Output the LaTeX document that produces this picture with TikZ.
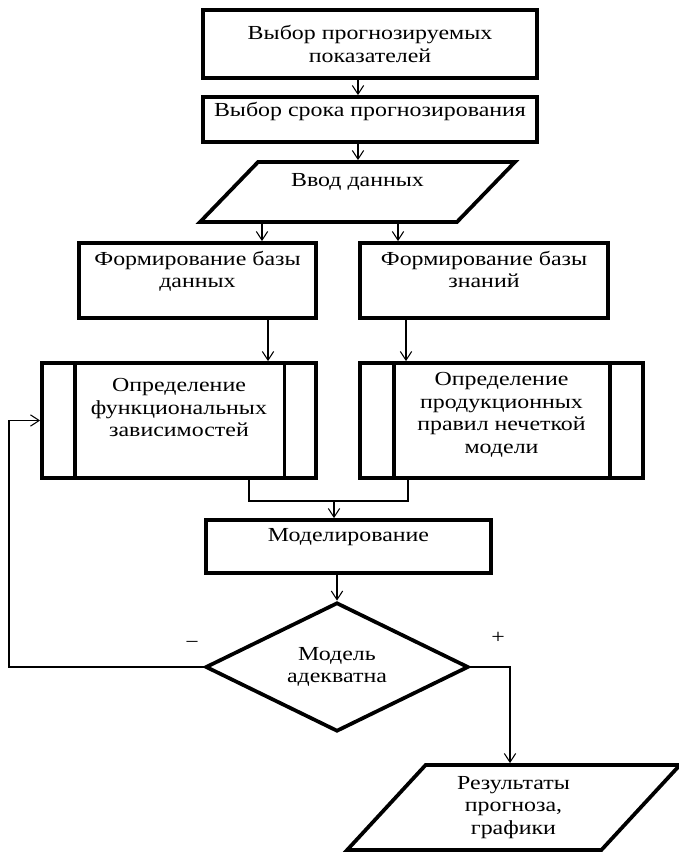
\documentclass[tikz,border=0pt]{standalone}
\usepackage{fontspec}
\setmainfont[FakeStretch=1.2]{Liberation Serif}
\usetikzlibrary{shapes.geometric, arrows.meta, calc}

\begin{document}
\begin{tikzpicture}[x=0.03cm, y=-0.03cm,
  every node/.style={font=\fontsize{17}{19.2}\selectfont, align=center},
  block/.style={draw, line width=3.2pt, inner sep=0pt},
  dataio/.style={draw, line width=3.2pt, trapezium, trapezium stretches=true, inner sep=0pt},
  decision/.style={draw, line width=3.2pt, diamond, aspect=2, inner sep=0pt},
  arr/.style={line width=0.9pt, -{Straight Barb[length=2.6mm, width=3.4mm]}},
  link/.style={line width=0.9pt}]
  \useasboundingbox (0,0) rectangle (678,852);

  % Input stage
  \node[block, minimum width=10.02cm, minimum height=2.04cm] (prog) at (370,44) {Выбор прогнозируемых\\показателей};
  \node[block, minimum width=10.02cm, minimum height=1.35cm, text depth=16.5pt] (term) at (370,119.5) {Выбор срока прогнозирования};
  \node[dataio, trapezium left angle=44, trapezium right angle=136, minimum width=9.45cm, minimum height=1.8cm, text depth=20.8pt] (input) at (357.5,192) {Ввод данных};

  % Two branches: data base and knowledge base
  \node[block, minimum width=7.11cm, minimum height=2.25cm, text depth=19pt] (dbase) at (197.5,280.5) {Формирование базы\\данных};
  \node[block, minimum width=7.44cm, minimum height=2.25cm, text depth=19pt] (kbase) at (484,280.5) {Формирование базы\\знаний};
  \node[block, minimum width=8.22cm, minimum height=3.45cm, text depth=21.6pt] (fdep) at (179,420.5) {Определение\\функциональных\\зависимостей};
  \node[block, minimum width=8.49cm, minimum height=3.45cm, text depth=13pt] (rules) at (501.5,420.5) {Определение\\продукционных\\правил нечеткой\\модели};
  % side bars of the predefined process blocks
  \draw[line width=3.2pt] ([xshift=1.05cm]fdep.north west) -- ([xshift=1.05cm]fdep.south west);
  \draw[line width=3.2pt] ([xshift=-1.0cm]fdep.north east) -- ([xshift=-1.0cm]fdep.south east);
  \draw[line width=3.2pt] ([xshift=1.08cm]rules.north west) -- ([xshift=1.08cm]rules.south west);
  \draw[line width=3.2pt] ([xshift=-1.05cm]rules.north east) -- ([xshift=-1.05cm]rules.south east);

  % Modelling and check
  \node[block, minimum width=8.55cm, minimum height=1.59cm, text depth=20pt] (model) at (348.5,546.5) {Моделирование};
  \node[decision, minimum width=7.89cm, minimum height=3.87cm] (dia) at (337,667) {Модель\\адекватна};
  \node (minus) at (192,645) {−};
  \node (plus) at (498,638) {+};
  \node[dataio, trapezium left angle=51, trapezium right angle=129, minimum width=9.99cm, minimum height=2.55cm] (out) at (513.5,807.5) {Результаты\\прогноза,\\графики};

  % Connectors
  \draw[arr] (prog.south -| 358,0) -- (term.north -| 358,0);
  \draw[arr] (term.south -| 358,0) -- (input.north -| 358,0);
  \draw[arr] (input.south -| 262,0) -- (dbase.north -| 262,0);
  \draw[arr] (input.south -| 398,0) -- (kbase.north -| 398,0);
  \draw[arr] (dbase.south -| 268,0) -- (fdep.north -| 268,0);
  \draw[arr] (kbase.south -| 406,0) -- (rules.north -| 406,0);
  \coordinate (join) at (334,501);
  \draw[link] (fdep.south -| 249,0) -- (249,0 |- join) -- (408,0 |- join) -- (rules.south -| 408,0);
  \draw[arr] (join) -- (model.north -| join);
  \draw[arr] (model.south -| dia.north) -- (dia.north);
  \draw[arr] (dia.west) -- (9,0 |- dia.west) |- (fdep.west);
  \draw[arr] (dia.east) -| (510,0 |- out.north);
\end{tikzpicture}
\end{document}
